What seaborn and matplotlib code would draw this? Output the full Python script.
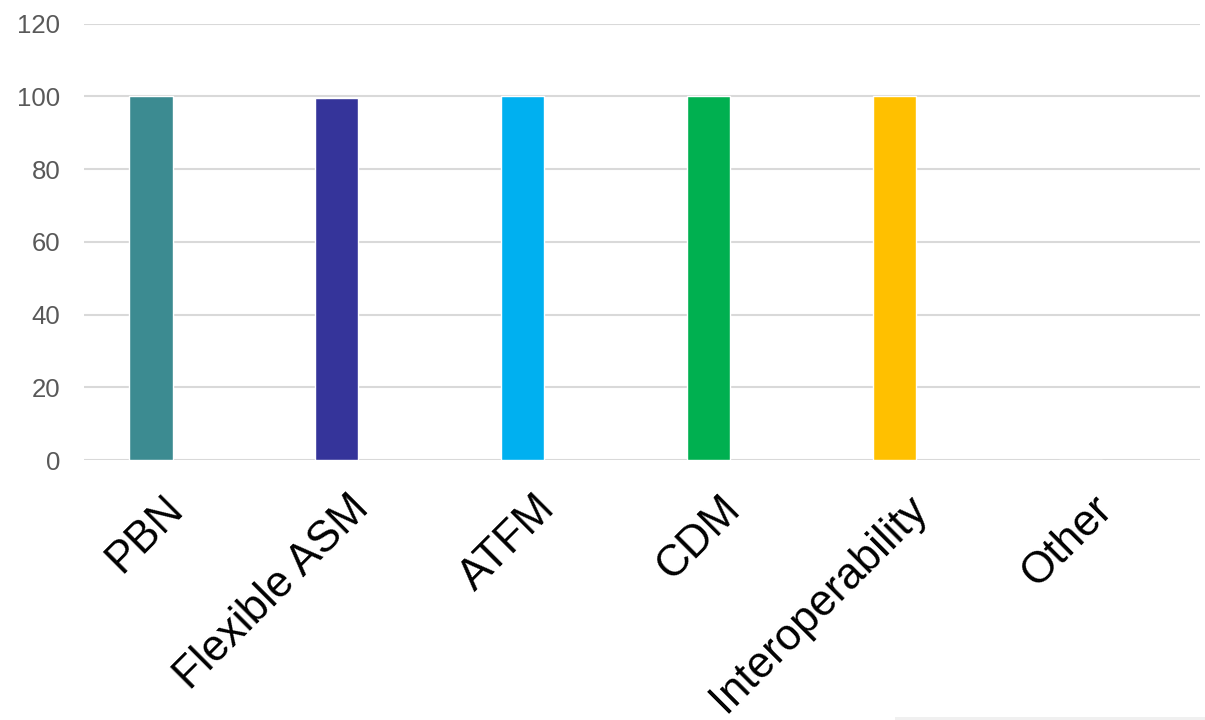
import matplotlib
matplotlib.use("Agg")
import matplotlib.pyplot as plt
import matplotlib.transforms as mtransforms
import seaborn as sns
import pandas as pd
from matplotlib.patches import Rectangle

categories = ["PBN", "Flexible ASM", "ATFM", "CDM", "Interoperability", "Other"]
values = [100, 99.6, 100, 100, 100, 0]
colors = ["#3C8B91", "#35349A", "#00B0F0", "#00B050", "#FFC000", "#A5A5A5"]
yticks = [0, 20, 40, 60, 80, 100, 120]

sns.set_theme(style="white")
plt.rcParams["font.family"] = ["Liberation Sans", "DejaVu Sans"]

fig = plt.figure(figsize=(12.05, 7.2), dpi=100)
ax = fig.add_axes([0.0697, 0.361, 0.926, 0.606])

df = pd.DataFrame({"cat": categories, "val": values})
sns.barplot(data=df, x="cat", y="val", hue="cat", palette=colors, legend=False,
            width=0.232, ax=ax, saturation=1)

ax.set_ylim(0, 120)
ax.set_yticks(yticks)
ax.set_xlim(-0.36, len(categories) - 0.36)
ax.yaxis.grid(True, color="#D9D9D9", linewidth=1.5)
ax.set_axisbelow(True)
for s in ax.spines.values():
    s.set_visible(False)
ax.set_xlabel("")
ax.set_ylabel("")
ax.tick_params(axis="y", labelsize=18.5, colors="#595959", length=0, pad=17)
ax.tick_params(axis="x", length=0, pad=4)
ax.set_xticks(range(len(categories)))
ax.set_xticklabels(categories, rotation=45, ha="right", va="top",
                   rotation_mode="anchor", fontsize=31.5, color="black")
offset = mtransforms.ScaledTranslation(0.11, -0.22, fig.dpi_scale_trans)
for lbl in ax.get_xticklabels():
    lbl.set_transform(lbl.get_transform() + offset)

fig.patches.append(Rectangle((895 / 1205, 0), 310 / 1205, 3.5 / 720,
                             transform=fig.transFigure, facecolor="#F0F0F0",
                             edgecolor="none"))

fig.savefig("out.png", dpi=100)
